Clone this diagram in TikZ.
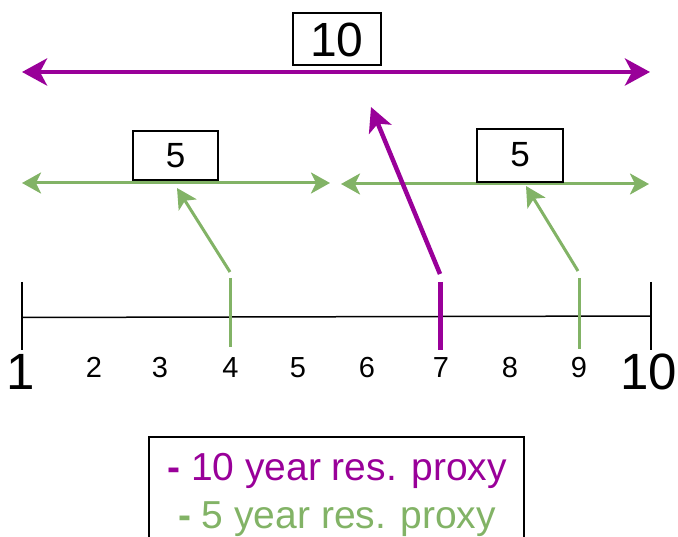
\documentclass[tikz,border=0pt]{standalone}
\usepackage{fontspec}
\setmainfont{Liberation Sans}
\usetikzlibrary{arrows.meta}
\definecolor{prp}{HTML}{990099}
\definecolor{grn}{HTML}{82B366}
\tikzset{
  fs/.style={font=\fontsize{#1}{#1}\selectfont},
  lbl/.style={anchor=base, inner sep=0pt},
  boxnode/.style={draw=black, line width=1.5pt, fill=white, inner sep=0pt},
  bigarrow/.style={prp, line width=4.5pt, {Stealth[length=25pt,width=27pt,inset=7pt]}-{Stealth[length=25pt,width=27pt,inset=7pt]}},
  grnarrow/.style={grn, line width=3pt, {Stealth[length=19pt,width=21pt,inset=5pt]}-{Stealth[length=19pt,width=21pt,inset=5pt]}},
  prpptr/.style={prp, line width=4.5pt, -{Stealth[length=24pt,width=24pt,inset=6pt]}},
  grnptr/.style={grn, line width=3pt, -{Stealth[length=20pt,width=21pt,inset=5pt]}},
  axisline/.style={black, line width=1.5pt},
}
\begin{document}
\begin{tikzpicture}[x=1pt,y=-1pt]
\useasboundingbox (0,0) rectangle (678,537);
% coordinates
\coordinate (tl) at (22,72);
\coordinate (tr) at (650,72);
\coordinate (gl1) at (22,183);
\coordinate (gr1) at (330,183);
\coordinate (gl2) at (341,184);
\coordinate (gr2) at (649,184);
\coordinate (a0) at (22,317.5);
\coordinate (a1) at (651,316);
\coordinate (t1a) at (22,282);
\coordinate (t1b) at (22,350);
\coordinate (t10a) at (651,282);
\coordinate (t10b) at (651,350);
\coordinate (g4a) at (230.7,278);
\coordinate (g4b) at (230.7,347);
\coordinate (p7a) at (440.7,282);
\coordinate (p7b) at (440.7,350);
\coordinate (g9a) at (579,278);
\coordinate (g9b) at (579,349);
\coordinate (s4) at (230,272);
\coordinate (e4) at (177,188);
\coordinate (s7) at (440,274);
\coordinate (e7) at (371,107);
\coordinate (s9) at (578,271);
\coordinate (e9) at (526,186);

% top purple range
\draw[bigarrow] (tl) -- (tr);
\node[boxnode, minimum width=88pt, minimum height=52pt] (box10) at (337,39) {};
\node[lbl, fs=48] (lab10) at (337,56.7) {10};

% green ranges
\draw[grnarrow] (gl1) -- (gr1);
\draw[grnarrow] (gl2) -- (gr2);
\node[boxnode, minimum width=85pt, minimum height=49pt] (box5a) at (175.5,155.5) {};
\node[lbl, fs=35] (lab5a) at (175.5,167.5) {5};
\node[boxnode, minimum width=86pt, minimum height=53pt] (box5b) at (520,155.5) {};
\node[lbl, fs=35] (lab5b) at (520,167) {5};

% pointers
\draw[prpptr] (s7) -- (e7);
\draw[grnptr] (s4) -- (e4);
\draw[grnptr] (s9) -- (e9);

% axis
\draw[axisline] (a0) -- (a1);
\draw[axisline] (t1a) -- (t1b);
\draw[axisline] (t10a) -- (t10b);
\draw[grn, line width=3pt] (g4a) -- (g4b);
\draw[prp, line width=4.5pt] (p7a) -- (p7b);
\draw[grn, line width=3pt] (g9a) -- (g9b);

% labels
\node[lbl, fs=51] (n1) at (21,390) {1};
\node[lbl, fs=29] (n2) at (94,378) {2};
\node[lbl, fs=29] (n3) at (160,378) {3};
\node[lbl, fs=29] (n4) at (230.5,378) {4};
\node[lbl, fs=29] (n5) at (298,378) {5};
\node[lbl, fs=29] (n6) at (367,378) {6};
\node[lbl, fs=29] (n7) at (441,378) {7};
\node[lbl, fs=29] (n8) at (510,378) {8};
\node[lbl, fs=29] (n9) at (579,378) {9};
\node[lbl, fs=51] (n10) at (649,390) {10};

% legend
\node[draw=black, line width=1.5pt, minimum width=375pt, minimum height=126pt, inner sep=0pt] (legend) at (336.5,500) {};
\node[lbl, fs=39, text=prp] (leg1) at (337,480) {\textbf{-} 10 year res. proxy};
\node[lbl, fs=39, text=grn] (leg2) at (337,528) {\textbf{-} 5 year res. proxy};
\end{tikzpicture}
\end{document}
